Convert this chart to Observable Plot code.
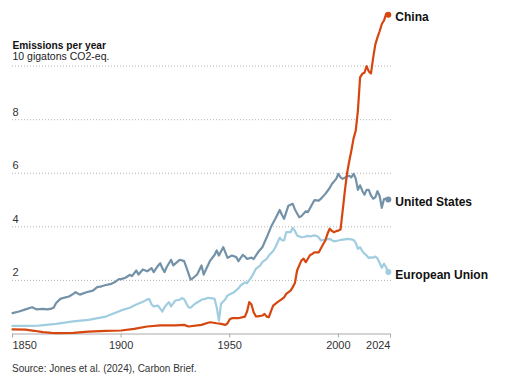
<!DOCTYPE html>
<html>
<head>
<meta charset="utf-8">
<script src="https://cdn.jsdelivr.net/npm/d3@7"></script>
<script src="https://cdn.jsdelivr.net/npm/@observablehq/plot@0.6"></script>
<style>
  html, body { margin: 0; padding: 0; background: #fff; }
  body { width: 505px; height: 380px; overflow: hidden; font-family: "Liberation Sans", Arial, sans-serif; }
  #caption { margin: 0; padding: 11px 0 0 12px; font-size: 10px; line-height: 12px; color: #333; }
</style>
</head>
<body>
<div id="chart"></div>
<div id="caption">Source: Jones et al. (2024), Carbon Brief.</div>
<script>
const titleText = "Emissions per year";
const unitText = "10 gigatons CO2-eq.";
const seriesNames = ["European Union", "United States", "China"];
const seriesColors = ["#a0cde0", "#7392a8", "#d6470f"];
const xTicks = [1850, 1900, 1950, 2000, 2024];
const yTicks = [2, 4, 6, 8, 10];

const usData = [
  [1850,0.78],[1853,0.84],[1856,0.92],[1859,1.0],[1861,0.92],[1864,0.94],[1866,0.92],[1868,0.95],[1869,0.99],
  [1870,1.15],[1872,1.31],[1874,1.36],[1876,1.40],[1878,1.50],[1879,1.56],[1881,1.47],[1884,1.56],[1887,1.62],
  [1889,1.75],[1891,1.78],[1893,1.83],[1895,1.86],[1897,1.93],[1899,2.05],[1900,2.05],[1902,2.10],[1904,2.21],
  [1905,2.16],[1907,2.37],[1908,2.22],[1910,2.41],[1912,2.34],[1914,2.46],[1915,2.31],[1917,2.55],[1918,2.64],
  [1919,2.45],[1920,2.31],[1921,2.50],[1923,2.77],[1924,2.56],[1926,2.70],[1927,2.77],[1929,2.72],[1930,2.50],
  [1932,2.03],[1933,2.08],[1935,2.22],[1937,2.56],[1938,2.22],[1939,2.40],[1941,2.74],[1943,2.95],[1944,3.12],
  [1945,2.93],[1947,3.24],[1949,2.84],[1951,2.93],[1953,2.87],[1954,2.72],[1956,2.95],[1957,2.89],[1958,2.80],
  [1960,2.85],[1961,2.80],[1963,3.05],[1965,3.24],[1967,3.60],[1969,4.00],[1971,4.30],[1973,4.63],[1974,4.45],
  [1975,4.30],[1977,4.79],[1979,4.86],[1980,4.65],[1982,4.36],[1983,4.40],[1985,4.58],[1986,4.55],[1988,4.85],
  [1989,5.00],[1991,4.98],[1992,5.05],[1994,5.23],[1996,5.45],[1997,5.60],[1999,5.79],[2000,5.98],[2001,5.85],
  [2002,5.79],[2004,5.88],[2005,5.91],[2006,5.85],[2007,5.98],[2008,5.80],[2009,5.38],[2010,5.55],[2011,5.35],
  [2012,5.20],[2013,5.38],[2014,5.38],[2015,5.17],[2016,5.05],[2017,5.10],[2018,5.33],[2019,5.15],[2020,4.71],
  [2021,5.04],[2022,5.05],[2023,5.02]
];

const euData = [
  [1850,0.30],[1856,0.30],[1862,0.31],[1870,0.38],[1878,0.47],[1885,0.53],[1893,0.65],[1900,0.88],[1904,0.98],
  [1907,1.10],[1910,1.20],[1912,1.29],[1913,1.30],[1914,1.10],[1915,1.03],[1917,1.06],[1918,0.95],[1919,0.84],
  [1920,1.00],[1921,1.10],[1922,1.19],[1923,1.03],[1924,1.15],[1925,1.25],[1927,1.28],[1928,1.34],[1929,1.30],
  [1930,1.15],[1931,1.00],[1932,0.98],[1934,1.13],[1936,1.22],[1937,1.28],[1939,1.32],[1940,1.35],[1942,1.33],
  [1943,1.31],[1944,1.00],[1945,0.50],[1946,1.13],[1948,1.30],[1949,1.44],[1951,1.52],[1952,1.56],[1954,1.70],
  [1955,1.81],[1957,1.93],[1958,1.90],[1960,2.12],[1962,2.43],[1964,2.55],[1965,2.68],[1967,2.80],[1968,2.93],
  [1970,3.10],[1971,3.24],[1973,3.59],[1974,3.50],[1975,3.49],[1976,3.80],[1978,3.80],[1979,3.96],[1980,3.85],
  [1981,3.68],[1983,3.61],[1984,3.62],[1986,3.66],[1987,3.64],[1989,3.68],[1990,3.66],[1991,3.60],[1992,3.49],
  [1994,3.52],[1996,3.55],[1997,3.50],[1998,3.46],[2000,3.49],[2001,3.51],[2003,3.53],[2004,3.55],[2006,3.53],
  [2007,3.51],[2008,3.40],[2009,3.18],[2010,3.24],[2011,3.10],[2012,3.00],[2013,2.93],[2014,2.84],[2015,2.86],
  [2016,2.85],[2017,2.89],[2018,2.82],[2019,2.65],[2020,2.47],[2021,2.62],[2022,2.48],[2023,2.31]
];

const chinaData = [
  [1850,0.17],[1856,0.16],[1860,0.12],[1864,0.07],[1868,0.04],[1870,0.03],[1878,0.04],[1885,0.09],[1893,0.12],
  [1900,0.13],[1906,0.19],[1912,0.28],[1918,0.32],[1925,0.32],[1929,0.34],[1931,0.28],[1937,0.34],[1940,0.42],
  [1941,0.44],[1944,0.40],[1946,0.38],[1948,0.34],[1949,0.40],[1950,0.55],[1951,0.59],[1954,0.59],[1956,0.63],
  [1957,0.65],[1958,0.85],[1959,1.19],[1960,1.10],[1961,0.81],[1962,0.66],[1963,0.66],[1965,0.69],[1966,0.75],
  [1967,0.65],[1968,0.63],[1969,0.85],[1970,1.06],[1972,1.19],[1974,1.30],[1975,1.37],[1976,1.50],[1978,1.62],
  [1979,1.75],[1980,1.90],[1981,2.37],[1983,2.75],[1984,2.81],[1985,2.68],[1987,2.95],[1988,2.99],[1989,3.05],
  [1991,3.05],[1993,3.35],[1994,3.49],[1995,3.74],[1996,3.93],[1997,3.85],[1998,3.80],[1999,3.84],[2000,3.86],
  [2001,3.90],[2002,4.61],[2003,5.35],[2004,6.00],[2005,6.45],[2006,6.85],[2007,7.30],[2008,7.59],[2009,8.34],
  [2010,9.58],[2011,9.71],[2012,9.75],[2013,10.00],[2014,9.80],[2015,9.72],[2016,10.30],[2017,10.80],
  [2018,11.07],[2019,11.30],[2020,11.57],[2021,11.70],[2022,11.95],[2023,11.92]
];

const seriesData = [euData, usData, chinaData];
const rows = seriesData.flatMap((arr, i) => arr.map(([year, value]) => ({series: seriesNames[i], year, value})));
const lastRows = seriesData.map((arr, i) => {
  const [year, value] = arr[arr.length - 1];
  return {series: seriesNames[i], year, value};
});

const FONT = "'Liberation Sans', Arial, sans-serif";

const chart = Plot.plot({
  width: 505,
  height: 352,
  marginLeft: 12,
  marginRight: 115,
  marginTop: 12,
  marginBottom: 18.5,
  style: {fontFamily: FONT, fontSize: "11px", overflow: "visible", background: "#fff"},
  x: {domain: [1850, 2024]},
  y: {domain: [0, 12], axis: null},
  color: {domain: seriesNames, range: seriesColors},
  marks: [
    Plot.ruleY(yTicks, {stroke: "#b5b5b5", strokeDasharray: "1,2", insetRight: -2}),
    Plot.ruleY([0], {stroke: "#aaa"}),
    Plot.axisX({ticks: xTicks.filter(d => d !== 1850 && d !== 2024), tickSize: 4, tickPadding: 3, stroke: "#aaa", fill: "#333", fontSize: 11, tickFormat: d => String(d), label: null}),
    Plot.axisX({ticks: [xTicks[0]], tickSize: 4, tickPadding: 3, stroke: "#aaa", fill: "#333", fontSize: 11, textAnchor: "start", tickFormat: d => String(d), label: null}),
    Plot.axisX({ticks: [xTicks[xTicks.length - 1]], tickSize: 4, tickPadding: 3, stroke: "#aaa", fill: "#333", fontSize: 11, textAnchor: "end", tickFormat: d => String(d), label: null}),
    Plot.text(yTicks.filter(d => d < 10), {frameAnchor: "left", y: d => d, text: d => String(d), textAnchor: "start", lineAnchor: "bottom", dy: -4, fill: "#333", fontSize: 11}),
    Plot.text([{v: 10, t: unitText}], {frameAnchor: "left", y: "v", text: "t", textAnchor: "start", lineAnchor: "bottom", dy: -6, fill: "#222", fontSize: 10.5}),
    Plot.text([{v: 10, t: titleText}], {frameAnchor: "left", y: "v", text: "t", textAnchor: "start", lineAnchor: "bottom", dy: -17.5, fill: "#111", fontSize: 10.2, fontWeight: "bold"}),
    Plot.line(rows, {x: "year", y: "value", z: "series", stroke: "series", strokeWidth: 2.2, strokeLinejoin: "round"}),
    Plot.dot(lastRows, {x: "year", y: "value", fill: "series", r: 3}),
    Plot.text(lastRows, {x: "year", y: "value", text: "series", dx: 7, dy: 3, textAnchor: "start", fill: "#111", fontSize: 12, fontWeight: "bold"})
  ]
});
document.getElementById("chart").appendChild(chart);
</script>
</body>
</html>
